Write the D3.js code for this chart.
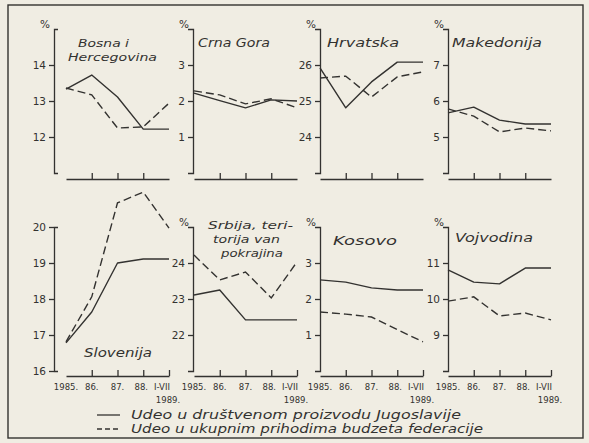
<!DOCTYPE html>
<html>
<head>
<meta charset="utf-8">
<script src="https://cdn.jsdelivr.net/npm/d3@7"></script>
<style>
  html, body { margin: 0; padding: 0; background: #f0ede3; }
  svg { display: block; }
</style>
</head>
<body>
<svg id="chart"></svg>
<script>
const width = 589, height = 443;

// categories on the x axis (last one is I-VII 1989.)
const yearLabels = ["1985.", "86.", "87.", "88.", "I-VII"];
const lastYearNote = "1989.";

const regions = ["Bosna i Hercegovina", "Crna Gora", "Hrvatska", "Makedonija",
                 "Slovenija", "Srbija, teritorija van pokrajina", "Kosovo", "Vojvodina"];

// share in the social product of Yugoslavia (solid), %
const productShare = [
  [13.33, 13.72, 13.11, 12.22, 12.22],
  [2.22, 2.01, 1.81, 2.03, 2.00],
  [25.92, 24.81, 25.53, 26.08, 26.08],
  [5.67, 5.83, 5.47, 5.36, 5.36],
  [16.78, 17.64, 19.00, 19.11, 19.11],
  [23.11, 23.25, 22.42, 22.42, 22.42],
  [2.53, 2.47, 2.31, 2.25, 2.25],
  [10.81, 10.47, 10.42, 10.86, 10.86]
];

// share in total revenue of the federal budget (dashed), %
const budgetShare = [
  [13.36, 13.17, 12.25, 12.28, 12.94],
  [2.28, 2.17, 1.92, 2.06, 1.81],
  [25.64, 25.69, 25.11, 25.67, 25.81],
  [5.78, 5.58, 5.14, 5.25, 5.17],
  [16.81, 18.06, 20.67, 20.97, 19.97],
  [24.22, 23.53, 23.75, 23.03, 24.03],
  [1.64, 1.58, 1.50, 1.15, 0.81],
  [9.94, 10.06, 9.53, 9.61, 9.42]
];

// y range of each little panel starts here and spans 4 points
const yLow = [11, 0, 23, 4, 16, 21, 0, 8];
const yTicks = [
  [12, 13, 14], [1, 2, 3], [24, 25, 26], [5, 6, 7],
  [16, 17, 18, 19, 20], [22, 23, 24], [1, 2, 3], [9, 10, 11]
];

const legendLabels = ["Udeo u društvenom proizvodu Jugoslavije",
                      "Udeo u ukupnim prihodima budzeta federacije"];

// ---- layout (pixels) ----
const ink = "#333230";
const handFont = "'DejaVu Sans', Verdana, sans-serif";
const rows = [{ base: 173, axisY: 179 }, { base: 371, axisY: 376 }];
const cols = [{ axis: 54, x0: 66 }, { axis: 193, x0: 194 }, { axis: 320, x0: 320 }, { axis: 448, x0: 448 }];
const unit = 36, span = 103;

// title lines: [text, x, baseline, width], plus font size
const panelLayout = [
  { row: 0, col: 0, pct: true,  fs: 11, title: [["Bosna i", 78, 47, 51], ["Hercegovina", 68, 61, 89]] },
  { row: 0, col: 1, pct: true,  fs: 12, title: [["Crna Gora", 198, 47, 72]] },
  { row: 0, col: 2, pct: true,  fs: 12, title: [["Hrvatska", 327, 47, 72]] },
  { row: 0, col: 3, pct: true,  fs: 12, title: [["Makedonija", 452, 47, 90]] },
  { row: 1, col: 0, pct: false, fs: 12, title: [["Slovenija", 84, 357, 68]] },
  { row: 1, col: 1, pct: true,  fs: 10.5, title: [["Srbija, teri-", 208, 229, 85], ["torija van", 213, 243, 67], ["pokrajina", 221, 257, 62]] },
  { row: 1, col: 2, pct: true,  fs: 12, title: [["Kosovo", 333, 245, 64]] },
  { row: 1, col: 3, pct: true,  fs: 12, title: [["Vojvodina", 455, 242, 78]] }
];

const svg = d3.select("#chart").attr("width", width).attr("height", height);

svg.append("rect")
  .attr("x", 8).attr("y", 5).attr("width", 575).attr("height", 433)
  .attr("fill", "none").attr("stroke", ink).attr("stroke-width", 1.4);

function styleAxis(g) {
  g.attr("font-family", handFont).attr("font-size", 10.5);
  g.selectAll("path, line").attr("stroke", ink).attr("stroke-width", 1.3);
  g.selectAll("text").attr("fill", ink);
}

regions.forEach((name, i) => {
  const L = panelLayout[i];
  const row = rows[L.row], col = cols[L.col];

  const x = d3.scaleLinear().domain([0, yearLabels.length - 1]).range([col.x0, col.x0 + span]);
  const y = d3.scaleLinear().domain([yLow[i], yLow[i] + 4]).range([row.base, row.base - 4 * unit]);

  const g = svg.append("g").attr("class", "panel");

  // y axis
  g.append("g")
    .attr("transform", `translate(${col.axis},0)`)
    .call(d3.axisLeft(y).tickValues(yTicks[i]).tickSize(5)
      .tickSizeOuter(L.col === 0 ? -4 : 5).tickPadding(3).tickFormat(d3.format("d")))
    .call(styleAxis);

  if (L.pct) {
    g.append("text")
      .attr("x", col.axis - 4).attr("y", y.range()[1] - 1)
      .attr("text-anchor", "end")
      .attr("font-family", handFont).attr("font-size", 10.5).attr("fill", ink)
      .text("%");
  }

  // x axis, detached below the panel, ticks pointing up
  const xTickVals = L.row === 0 ? [1, 2, 3] : [1, 2, 3, 4];
  g.append("g")
    .attr("transform", `translate(0,${row.axisY})`)
    .call(d3.axisBottom(x).tickValues(xTickVals).tickSize(-6).tickSizeOuter(0).tickFormat(""))
    .call(styleAxis);

  if (L.row === 1) {
    const lab = g.append("g")
      .attr("font-family", handFont).attr("font-size", 8.5).attr("fill", ink);
    yearLabels.forEach((t, j) => {
      lab.append("text")
        .attr("x", j === 4 ? x(j) - 7 : (j === 3 ? x(j) - 2 : x(j)))
        .attr("y", row.axisY + 14)
        .attr("text-anchor", "middle")
        .text(t);
    });
    lab.append("text")
      .attr("x", x(4) - 1).attr("y", row.axisY + 27)
      .attr("text-anchor", "middle")
      .text(lastYearNote);
  }

  // data lines
  const line = d3.line().x((d, j) => x(j)).y(d => y(d));
  g.append("path")
    .attr("d", line(productShare[i]))
    .attr("fill", "none").attr("stroke", ink).attr("stroke-width", 1.4)
    .attr("stroke-linejoin", "round");
  g.append("path")
    .attr("d", line(budgetShare[i]))
    .attr("fill", "none").attr("stroke", ink).attr("stroke-width", 1.4)
    .attr("stroke-dasharray", "8,4");

  // handwritten-style title
  L.title.forEach(([t, tx, ty, tw]) => {
    g.append("text")
      .attr("x", tx).attr("y", ty)
      .attr("font-family", handFont).attr("font-style", "italic")
      .attr("font-size", L.fs).attr("fill", ink)
      .attr("textLength", tw).attr("lengthAdjust", "spacingAndGlyphs")
      .text(t);
  });
});

// legend
const legend = svg.append("g");
const legendRows = [{ y: 419, dash: null, w: 330 }, { y: 433, dash: "5,3", w: 352 }];
legendRows.forEach((r, k) => {
  legend.append("line")
    .attr("x1", 97).attr("x2", 120)
    .attr("y1", r.y - 4).attr("y2", r.y - 4)
    .attr("stroke", ink).attr("stroke-width", 1.3)
    .attr("stroke-dasharray", r.dash);
  legend.append("text")
    .attr("x", 131).attr("y", r.y)
    .attr("font-family", handFont).attr("font-style", "italic")
    .attr("font-size", 12).attr("fill", ink)
    .attr("textLength", r.w).attr("lengthAdjust", "spacingAndGlyphs")
    .text(legendLabels[k]);
});
</script>
</body>
</html>
